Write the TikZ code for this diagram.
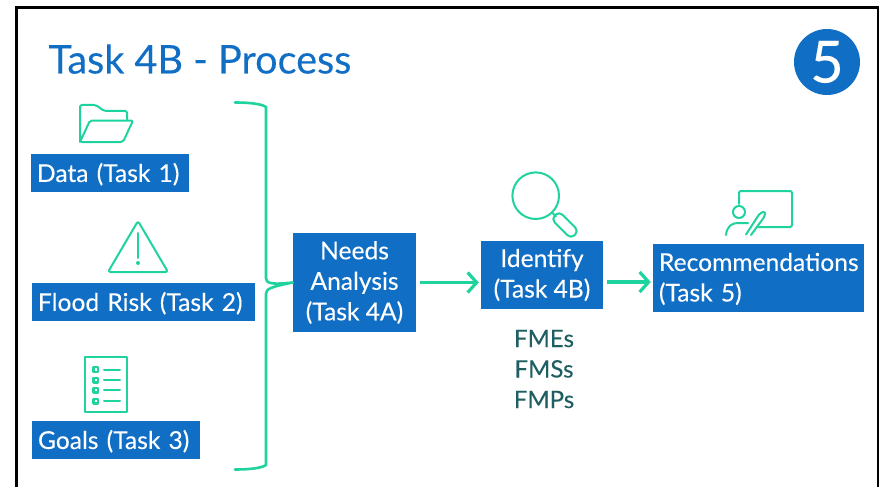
\documentclass[tikz,border=0pt]{standalone}
\usepackage{fontspec}
\setmainfont{Lato}[FakeBold=0.2]
\usetikzlibrary{arrows.meta}
\definecolor{taskblue}{HTML}{106EC4}
\definecolor{icongreen}{HTML}{1FD39F}
\definecolor{fmteal}{HTML}{1F5F62}

\tikzset{
	taskbox/.style={fill=taskblue,text=white,inner xsep=6pt,inner ysep=0pt,font=\fontsize{24.6}{30.5}\selectfont,
		execute at begin node={\vrule width 0pt height #1}},
	taskbox/.default=21.5pt,
	icon/.style={draw=icongreen,line width=2pt,line join=round,line cap=round},
	flow/.style={draw=icongreen,line width=3.2pt,-{Straight Barb[length=9pt,width=20pt]}}
}

\begin{document}
\begin{tikzpicture}[x=1pt,y=-1pt]
		\useasboundingbox (0,0) rectangle (879,487);
		\draw [black,line width=2.4pt] (16.5,487) -- (16.5,7.5) -- (878,7.5) -- (878,487);

		\node [text=taskblue,font=\fontsize{39.6}{39.6}\selectfont,anchor=base west] (title) at (45,73.5) {Task 4B - Process};
		\node [circle,fill=taskblue,minimum size=66pt,inner sep=0pt] (badge) at (827,62) {};
		\node [text=white,font=\fontsize{58}{58}\selectfont] (five) at (badge) {5};

		% input boxes
		\begin{scope}[every node/.append style={taskbox,minimum height=38pt,align=left}]
			\node [text width=146pt] (data) at (110,173) {Data (Task 1)};
			\node [text width=211pt] (flood) at (143.5,302) {Flood Risk (Task 2)};
			\node [text width=156pt] (goals) at (116,440) {Goals (Task 3)};
		\end{scope}

		% process boxes
		\node [taskbox=25.5pt,minimum width=123pt,minimum height=99pt,align=center] (needs) at (354.5,282.5) {Needs\\Analysis\\(Task 4A)};
		\node [taskbox=22.5pt,minimum width=122pt,minimum height=68pt,align=center] (identify) at (542,275) {Identify\\(Task 4B)};
		\node [taskbox=20pt,text width=199pt,minimum height=68pt,align=left] (recommend) at (758.5,278) {Recommendations\\(Task 5)};
		\node [text=fmteal,align=center,font=\fontsize{24}{30.5}\selectfont] (fm) at (544,369) {FMEs\\FMSs\\FMPs};

		\coordinate (bracetop) at (235,102.5);
		\coordinate (bracebot) at (235,469.5);
		\coordinate (nextarrow) at (607,282);

		\draw [flow,shorten <=4pt,shorten >=2pt] (needs.east) -- (needs.east -| identify.west);
		\draw [flow,shorten >=2pt] (nextarrow) -- (nextarrow -| recommend.west);

		% brace
		\draw [icon,line width=2.6pt] (bracetop) .. controls (250,102.5) and (262,104) .. (266,107) -- (266,278)
			.. controls (266,283) and (270,285) .. (needs.west)
			.. controls (270,287) and (266,289) .. (266,294) -- (266,465)
			.. controls (262,468) and (250,469.5) .. (bracebot);

		% folder
		\draw [icon,rounded corners=2pt] (127,119) -- (127,111) -- (104,111) -- (96,105) -- (80,105) -- (80,142) -- (123,142) -- (133,120.5) -- (90,120.5) -- (80,142);
		% warning
		\draw [icon,rounded corners=2.5pt] (138,221) -- (168,272) -- (108,272) -- cycle;
		\draw [icon] (138,233) -- (138,258);
		\fill [icongreen] (138,263) circle (2pt);
		% goals list
		\draw [icon] (85,357) rectangle (127,412);
		\foreach \y in {369.5,380,390,401} {
			\draw [icon,line width=2.2pt,line cap=butt] (93.5,\y-2.4) rectangle (98.3,\y+2.4);
			\draw [icon] (104,\y) -- (120,\y);
		}
		% magnifier
		\draw [icon] (535.7,195.7) circle (23.3pt);
		\draw [icon] (552,212.5) -- (556,216.5);
		\draw [icon,rounded corners=5pt,rotate around={-45:(565,225)}] (551,219.5) rectangle (579,230.5);
		% teacher
		\draw [icon,rounded corners=2pt] (739,204) -- (739,191) -- (792,191) -- (792,227) -- (758,227);
		\draw [icon] (739,212) circle (6pt);
		\draw [icon] (726,235) .. controls (727,226) and (732,223) .. (738,223) -- (748,223);
		\draw [icon,rounded corners=2pt] (746,234.5) -- (760,213) -- (765,211.5) -- (765,216) -- (751,235);
	\end{tikzpicture}
\end{document}
